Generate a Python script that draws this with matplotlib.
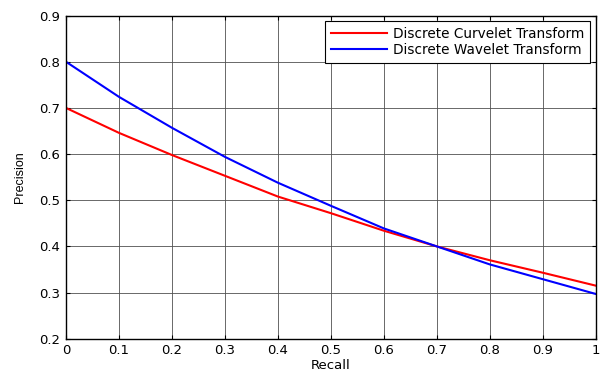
import matplotlib
matplotlib.use("Agg")
import matplotlib.pyplot as plt

plt.rcParams['font.family'] = ['DejaVu Sans']

recall = [0.0, 0.1, 0.2, 0.3, 0.4, 0.5, 0.6, 0.7, 0.8, 0.9, 1.0]
curvelet = [0.700, 0.646, 0.598, 0.553, 0.508, 0.472, 0.434, 0.400, 0.370, 0.343, 0.315]
wavelet = [0.800, 0.724, 0.657, 0.594, 0.538, 0.488, 0.439, 0.400, 0.361, 0.329, 0.297]
xticks = [0, 0.1, 0.2, 0.3, 0.4, 0.5, 0.6, 0.7, 0.8, 0.9, 1]
xticklabels = ['0', '0.1', '0.2', '0.3', '0.4', '0.5', '0.6', '0.7', '0.8', '0.9', '1']
yticks = [0.2, 0.3, 0.4, 0.5, 0.6, 0.7, 0.8, 0.9]

fig = plt.figure(figsize=(6, 3.72), dpi=100)
ax = fig.add_axes([0.11, 0.0895, 0.8828, 0.8685])
ax.plot(recall, curvelet, color='#ff0000', lw=1.5, label='Discrete Curvelet Transform')
ax.plot(recall, wavelet, color='#0000ff', lw=1.5, label='Discrete Wavelet Transform')
ax.set_xlim(0, 1)
ax.set_ylim(0.2, 0.9)
ax.set_xticks(xticks)
ax.set_xticklabels(xticklabels)
ax.set_yticks(yticks)
ax.grid(True, color='#505050', lw=0.6, ls='-')
ax.tick_params(direction='in', top=True, right=True, labelsize=9.5, length=3, pad=4)
for s in ax.spines.values():
    s.set_linewidth(1.0)
ax.set_xlabel('Recall', fontsize=9.5, labelpad=1)
ax.set_ylabel('Precision', fontsize=9, family='Liberation Sans', labelpad=10)
leg = ax.legend(loc='upper right', fontsize=9.8, fancybox=False, framealpha=1,
                edgecolor='black', borderaxespad=0.4, handlelength=4.1,
                handletextpad=0.4, borderpad=0.45, labelspacing=0.15)
leg.get_frame().set_linewidth(0.8)
fig.savefig('out.png', dpi=100)
